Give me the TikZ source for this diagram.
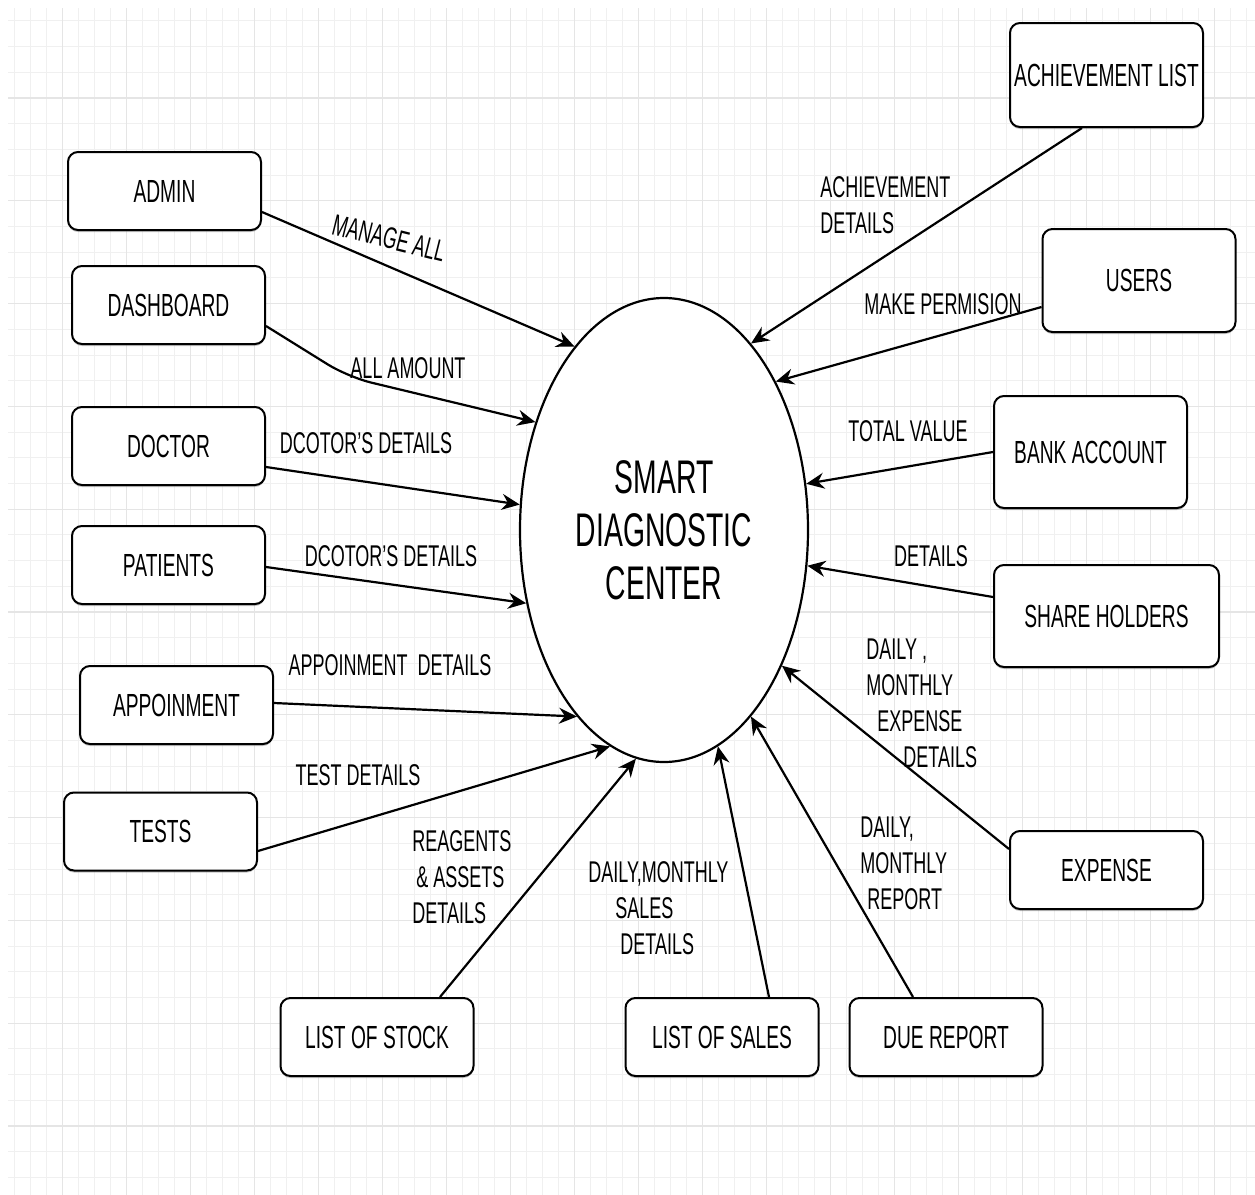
\documentclass[tikz,border=0pt]{standalone}
\usepackage{fontspec}
\setmainfont{Liberation Sans}[FakeStretch=0.6]
\usetikzlibrary{arrows.meta,shapes.geometric,shadows}

\begin{document}
\begin{tikzpicture}[x=0.5pt,y=-0.5pt,
	gridminor/.style={draw=black!6,line width=0.5pt},
	gridmajor/.style={draw=black!10,line width=0.6pt},
	entity/.style={draw,line width=1pt,rounded corners=5pt,fill=white,
		minimum width=96.5pt,minimum height=39pt,inner sep=0pt,
		font=\fontsize{16}{19}\selectfont,
		drop shadow={shadow xshift=0pt,shadow yshift=-1pt,opacity=0.45}},
	flow/.style={-{Stealth[length=9pt,width=8pt,inset=3pt]},line width=1.1pt},
	lbl/.style={inner sep=0pt,align=left,font=\fontsize{15}{18}\selectfont}]

			% background grid
			\useasboundingbox (0,0) rectangle (1255,1195);
			\fill[white] (0,0) rectangle (1255,1195);
			\foreach \i in {0,...,77} \draw[gridminor] ({14.7+16*\i},8) -- ({14.7+16*\i},1195);
			\foreach \j in {0,...,45} \draw[gridminor] (8,{20.9+25.7*\j}) -- (1255,{20.9+25.7*\j});
			\foreach \i in {0,...,18} \draw[gridmajor] ({62.7+64*\i},8) -- ({62.7+64*\i},1195);
			\foreach \j in {0,...,10} \draw[gridmajor] (8,{98+102.8*\j}) -- (1255,{98+102.8*\j});

			% the centre
			\node[draw,ellipse,line width=1.1pt,fill=white,minimum width=144pt,minimum height=232pt,
				inner sep=0pt,align=center,font=\fontsize{23.6}{26.5}\selectfont]
				(sdc) at (664,530) {SMART\\DIAGNOSTIC\\CENTER};

			% left side
			\node[entity] (admin) at (164.5,191) {ADMIN};
			\node[entity] (dash) at (168.5,305) {DASHBOARD};
			\node[entity] (doctor) at (168.5,446) {DOCTOR};
			\node[entity] (patients) at (168.5,565) {PATIENTS};
			\node[entity] (appoint) at (176.5,705) {APPOINMENT};
			\node[entity] (tests) at (160.5,831.5) {TESTS};

			% bottom
			\node[entity] (stock) at (377,1037) {LIST OF STOCK};
			\node[entity] (sales) at (722,1037) {LIST OF SALES};
			\node[entity] (due) at (946,1037) {DUE REPORT};

			% right side
			\node[entity] (expense) at (1106.5,870) {EXPENSE};
			\node[entity,minimum width=112.5pt,minimum height=51pt] (share) at (1106.5,616) {SHARE HOLDERS};
			\node[entity,minimum height=56pt] (bank) at (1090.5,452) {BANK ACCOUNT};
			\node[entity,minimum height=51.5pt] (users) at (1139,280.5) {USERS};
			\node[entity,minimum height=52pt] (achieve) at (1106.5,75) {ACHIEVEMENT LIST};

			\coordinate (dashbend) at (348,377);

			% flows into the centre
			\draw[flow] ([yshift=-10.5pt]admin.east) -- (sdc.116.6);
			\draw[flow,rounded corners=12pt] ([yshift=-10.5pt]dash.east) -- (dashbend) -- (sdc.140.1);
			\draw[flow] ([yshift=-10.5pt]doctor.east) -- (sdc.170.9);
			\draw[flow] ([yshift=-1pt]patients.east) -- (sdc.208.2);
			\draw[flow] ([yshift=1pt]appoint.east) -- (sdc.245.2);
			\draw[flow] ([yshift=-9.75pt]tests.east) -- (sdc.256.4);
			\draw[flow] ([xshift=31.5pt]stock.north) -- (sdc.263.4);
			\draw[flow] ([xshift=23.5pt]sales.north) -- (sdc.284.9);
			\draw[flow] ([xshift=-16.5pt]due.north) -- (sdc.295.8);
			\draw[flow] ([yshift=10.5pt]expense.west) -- (sdc.311.7);
			\draw[flow] ([yshift=9.5pt]share.west) -- (sdc.346.6);
			\draw[flow] (bank.west) -- (sdc.18.3);
			\draw[flow] ([yshift=-13.25pt]users.west) -- (sdc.53.8);
			\draw[flow] ([xshift=-12.25pt]achieve.south) -- (sdc.65.2);

			% labels
			\node[lbl,rotate=-14] (lmanage) at (389,238) {MANAGE ALL};
			\node[lbl] (lamount) at (408,368) {ALL AMOUNT};
			\node[lbl] (ldoctor) at (366,443) {DCOTOR'S DETAILS};
			\node[lbl] (lpatients) at (391,556) {DCOTOR'S DETAILS};
			\node[lbl] (lappoint) at (390,665) {APPOINMENT\ \ DETAILS};
			\node[lbl] (ltests) at (358,775) {TEST DETAILS};
			\node[lbl,anchor=west] (lstock) at (412,877) {REAGENTS\\\hspace*{2pt}\& ASSETS\\DETAILS};
			\node[lbl,anchor=west] (lsales) at (588,908) {DAILY,MONTHLY\\\hspace*{13.5pt}SALES\\\hspace*{16pt}DETAILS};
			\node[lbl,anchor=west] (ldue) at (860,863) {DAILY,\\MONTHLY\\\hspace*{3.5pt}REPORT};
			\node[lbl,anchor=west] (lexpense) at (866,703.5) {DAILY ,\\MONTHLY\\\hspace*{5.5pt}EXPENSE\\\hspace*{18.5pt}DETAILS};
			\node[lbl] (lshare) at (931,556) {DETAILS};
			\node[lbl] (lbank) at (908,431) {TOTAL VALUE};
			\node[lbl] (lusers) at (943,304) {MAKE PERMISION};
			\node[lbl,anchor=west] (lachieve) at (820,205) {ACHIEVEMENT\\DETAILS};
		\end{tikzpicture}
\end{document}
